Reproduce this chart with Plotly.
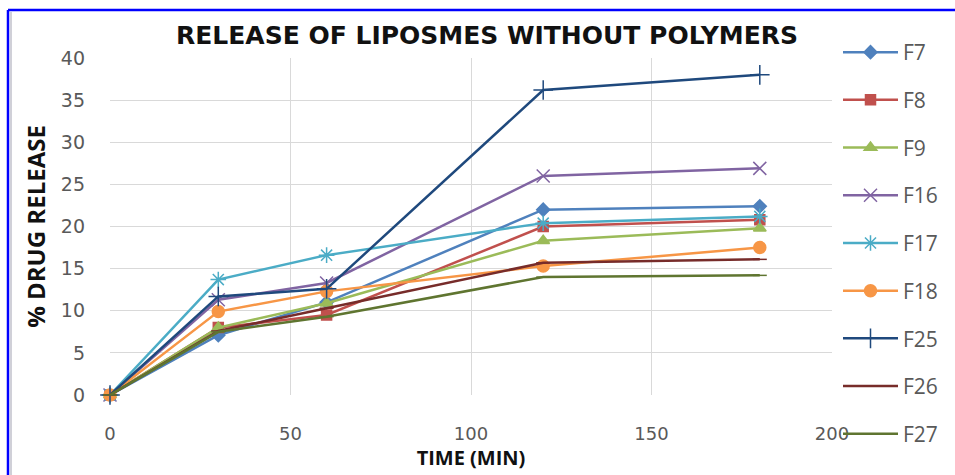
import plotly.graph_objects as go

time_min = [0, 30, 60, 120, 180]
series_names = ["F7", "F8", "F9", "F16", "F17", "F18", "F25", "F26", "F27"]
F7 = [0, 7.1, 11.0, 22.0, 22.4]
F8 = [0, 8.0, 9.5, 20.0, 20.8]
F9 = [0, 8.0, 10.9, 18.3, 19.8]
F16 = [0, 11.3, 13.3, 26.0, 26.9]
F17 = [0, 13.7, 16.6, 20.4, 21.2]
F18 = [0, 9.9, 12.3, 15.3, 17.5]
F25 = [0, 11.7, 12.6, 36.2, 38.0]
F26 = [0, 7.6, 10.3, 15.7, 16.1]
F27 = [0, 7.5, 9.3, 14.0, 14.2]
values = [F7, F8, F9, F16, F17, F18, F25, F26, F27]

colors = ["#4F81BD", "#C0504D", "#9BBB59", "#8064A2", "#4BACC6",
          "#F79646", "#1F497D", "#772C2A", "#5F7530"]
symbols = ["diamond", "square", "triangle-up", "x-thin-open", "asterisk-open",
           "circle", "cross-thin-open", "line-ew-open", "line-ew-open"]
msizes = [10, 10, 11, 13, 13, 12, 14, 10, 10]

fig = go.Figure()
for name, ys, c, s, ms in zip(series_names, values, colors, symbols, msizes):
    fig.add_trace(go.Scatter(
        x=time_min, y=ys, name=name, mode="lines+markers",
        line=dict(color=c, width=2.5),
        marker=dict(symbol=s, size=ms, color=c, line=dict(color=c, width=1.5)),
        cliponaxis=False, legendgroup=name,
    ))

L, R, T, B = 110, 123, 58, 80
W, H = 955, 475
pw = W - L - R
ph = H - T - B

def px_x(p):
    return (p - L) / pw

def px_y(p):
    return (H - B - p) / ph

fig.update_layout(
    width=W, height=H,
    margin=dict(l=L, r=R, t=T, b=B),
    paper_bgcolor="white", plot_bgcolor="white",
    title=dict(text="<b>RELEASE OF LIPOSMES WITHOUT POLYMERS</b>",
               x=487 / W, xanchor="center",
               y=1 - 35 / H, yanchor="middle",
               font=dict(family="DejaVu Sans", size=25, color="#111111")),
    legend=dict(x=px_x(838), xanchor="left", y=px_y(32), yanchor="top",
                font=dict(family="Open Sans", size=21, color="#595959"),
                tracegroupgap=17.4, itemwidth=55, maxheight=470,
                bgcolor="rgba(0,0,0,0)"),
    xaxis=dict(range=[0, 200], tickvals=[0, 50, 100, 150, 200],
               showgrid=True, gridcolor="#D9D9D9", gridwidth=1,
               zeroline=False, showline=False,
               tickfont=dict(family="DejaVu Sans", size=18, color="#595959"),
               ticklabelstandoff=26,
               title=dict(text="<b>TIME (MIN)</b>", standoff=2,
                          font=dict(family="Open Sans", size=20, color="#111111"))),
    yaxis=dict(range=[0, 40], tickvals=[0, 5, 10, 15, 20, 25, 30, 35, 40],
               showgrid=True, gridcolor="#D9D9D9", gridwidth=1,
               zeroline=False, showline=False,
               tickfont=dict(family="DejaVu Sans", size=19, color="#595959"),
               ticklabelstandoff=24,
               title=dict(text="<b>% DRUG RELEASE</b>", standoff=8,
                          font=dict(family="Open Sans", size=24, color="#111111"))),
    shapes=[
        dict(type="line", xref="paper", yref="paper",
             x0=px_x(8), x1=px_x(1000), y0=px_y(10), y1=px_y(10),
             line=dict(color="#0000FF", width=2.5)),
        dict(type="line", xref="paper", yref="paper",
             x0=px_x(8), x1=px_x(8), y0=px_y(10), y1=px_y(500),
             line=dict(color="#0000FF", width=2.5)),
        dict(type="line", xref="paper", yref="paper",
             x0=px_x(11), x1=px_x(11), y0=px_y(12), y1=px_y(500),
             line=dict(color="#D0D0D8", width=2)),
    ],
)

fig.write_html("out.html")
